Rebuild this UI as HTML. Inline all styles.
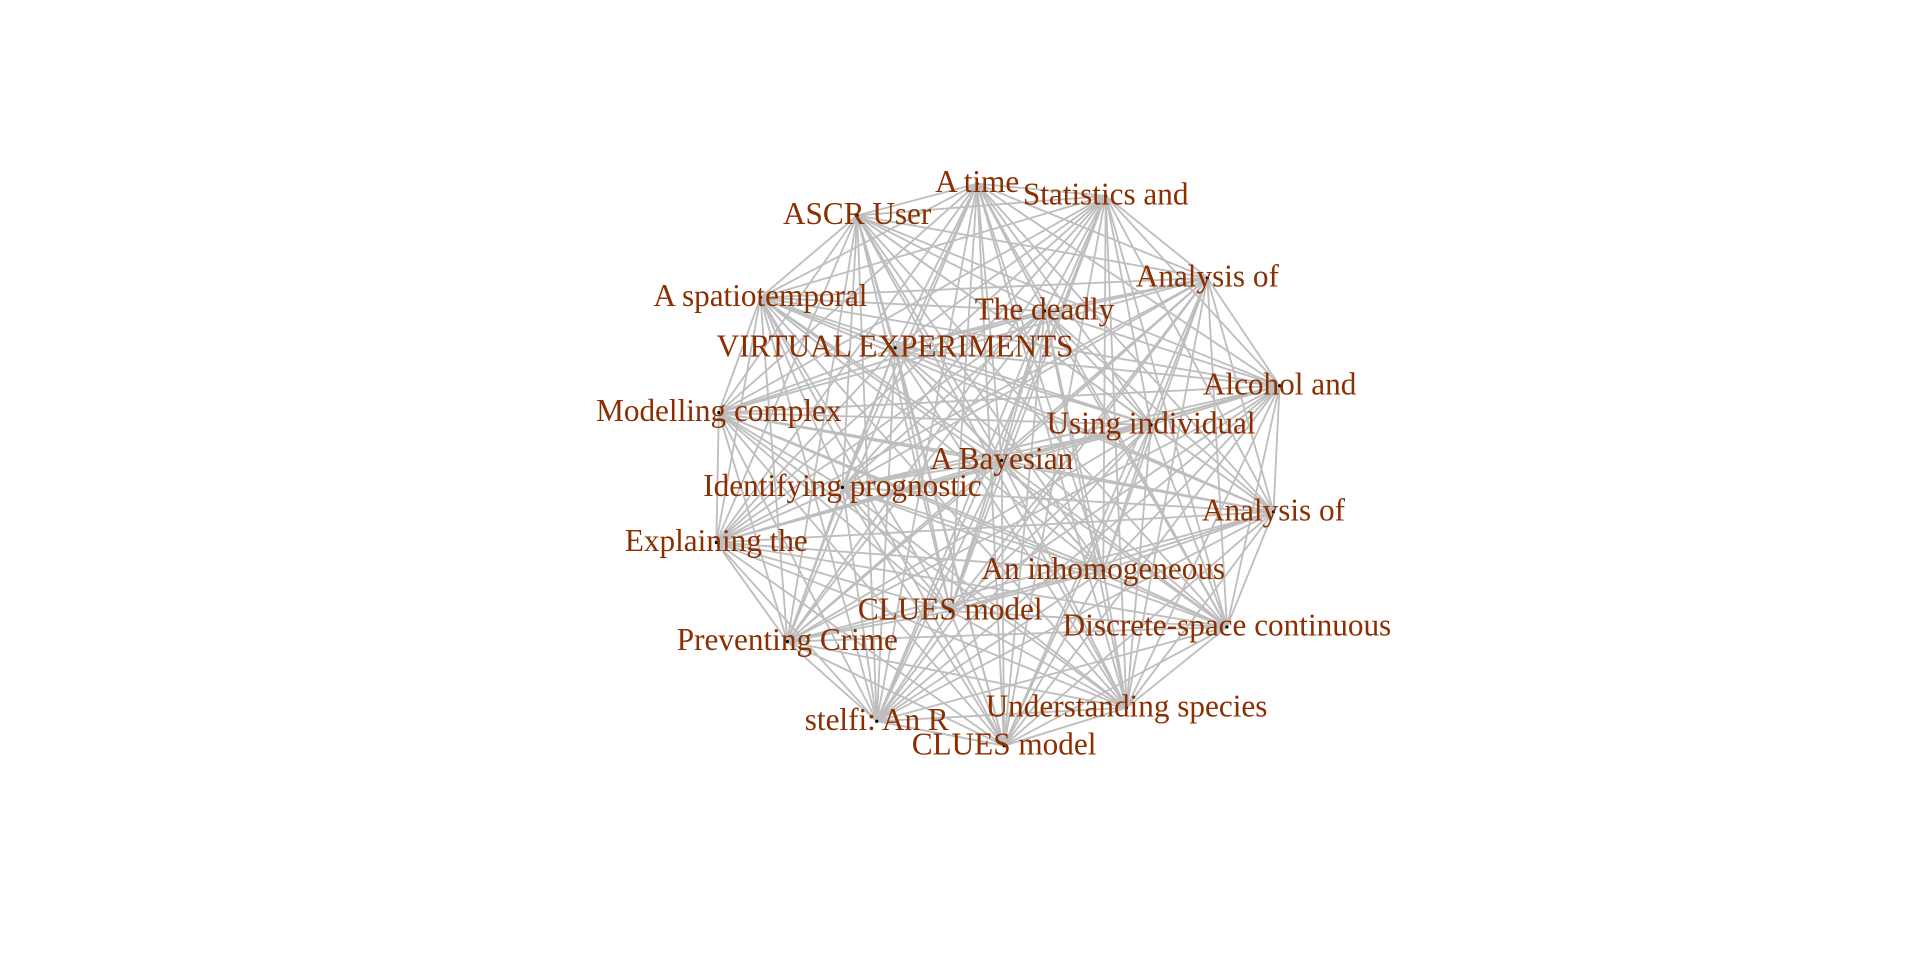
<!DOCTYPE html>
<html><head><meta charset="utf-8"><style>
html,body{margin:0;padding:0;background:#fff;}
svg{display:block;}
text{font-family:"Liberation Serif",serif;fill:#8B2E00;}
</style></head><body>
<svg id="chart" width="1920" height="960" viewBox="0 0 1568 784" xmlns="http://www.w3.org/2000/svg">
<rect width="1568" height="784" fill="#fff"/>
<g id="edges"></g>
<g id="nodes"></g>
</svg>
<script>
const labels = ["A time","Statistics and","ASCR User","Analysis of","A spatiotemporal","The deadly","VIRTUAL EXPERIMENTS","Alcohol and","Modelling complex","Using individual","A Bayesian","Identifying prognostic","Analysis of","Explaining the","An inhomogeneous","CLUES model","Discrete-space continuous","Preventing Crime","Understanding species","stelfi: An R","CLUES model"];
const layoutX = [798,903,700,986,621,853,731,1045,587,940,818,688,1040,585,901,776,1002,643,920,716,820];
const layoutY = [150,160,176,227,243,254,284,315,337,347,376,398,418,443,466,499,512,524,578,589,609];
const NS="http://www.w3.org/2000/svg";
const eg=document.getElementById('edges'), ng=document.getElementById('nodes');
for(let i=0;i<labels.length;i++){
  for(let j=i+1;j<labels.length;j++){
    const l=document.createElementNS(NS,'line');
    l.setAttribute('x1',layoutX[i]);l.setAttribute('y1',layoutY[i]);
    l.setAttribute('x2',layoutX[j]);l.setAttribute('y2',layoutY[j]);
    l.setAttribute('stroke','#bebebe');l.setAttribute('stroke-width','1.5');
    
    
    eg.appendChild(l);
  }
}
for(let i=0;i<labels.length;i++){
  const c=document.createElementNS(NS,'circle');
  c.setAttribute('cx',layoutX[i]);c.setAttribute('cy',layoutY[i]);c.setAttribute('r','1.3');c.setAttribute('fill','#000');
  
  
  ng.appendChild(c);
  const t=document.createElementNS(NS,'text');
  t.setAttribute('x',layoutX[i]);t.setAttribute('y',layoutY[i]+7);
  t.setAttribute('text-anchor','middle');t.setAttribute('font-size','25.5');
  t.textContent=labels[i];
  
  
  ng.appendChild(t);
}
</script>
</body></html>
